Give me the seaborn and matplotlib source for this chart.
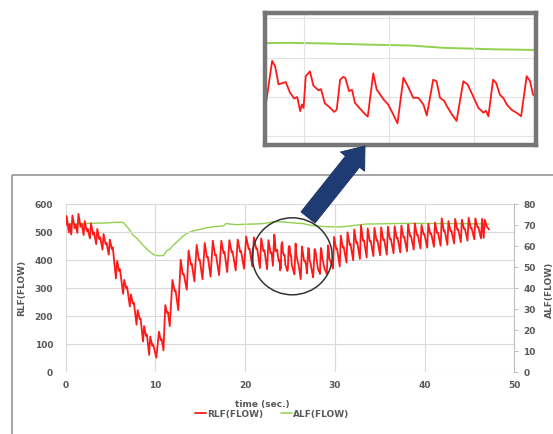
import matplotlib
matplotlib.use("Agg")
import matplotlib.pyplot as plt
from matplotlib.patches import Rectangle, Ellipse, FancyArrow
from matplotlib.lines import Line2D
import seaborn as sns

# RLF(FLOW) trace (time in s, flow)
rlf_time = [
    0.00, 0.10, 0.35, 0.45, 0.62, 0.75, 1.00, 1.10, 1.30, 1.42, 1.65, 1.78,
    2.00, 2.12, 2.35, 2.45, 2.70, 2.82, 3.05, 3.15, 3.40, 3.52, 3.75, 3.85,
    4.10, 4.22, 4.45, 4.55, 4.80, 4.92, 5.15, 5.25, 5.60, 5.74, 5.95, 6.05,
    6.40, 6.52, 6.75, 6.85, 7.15, 7.27, 7.50, 7.60, 7.90, 8.02, 8.25, 8.35,
    8.62, 8.74, 8.95, 9.05, 9.30, 9.42, 9.65, 9.75, 10.10, 10.40, 10.60, 10.70,
    10.90, 11.10, 11.30, 11.40, 11.60, 11.90, 12.15, 12.25, 12.55, 12.82, 13.05, 13.15,
    13.50, 13.70, 13.95, 14.05, 14.35, 14.60, 14.85, 14.95, 15.25, 15.50, 15.75, 15.85,
    16.15, 16.40, 16.65, 16.75, 17.10, 17.35, 17.60, 17.70, 18.00, 18.25, 18.50, 18.60,
    18.95, 19.18, 19.45, 19.55, 19.88, 20.12, 20.40, 20.50, 20.80, 20.98, 21.25, 21.35,
    21.65, 21.80, 22.05, 22.15, 22.45, 22.60, 22.85, 22.95, 23.10, 23.25, 23.32, 23.40,
    23.57, 23.67, 23.77, 23.84, 23.91, 23.95, 23.99, 24.04, 24.14, 24.22, 24.34, 24.40,
    24.49, 24.61, 24.71, 24.77, 24.85, 24.92, 24.97, 25.06, 25.13, 25.20, 25.32, 25.44,
    25.50, 25.63, 25.71, 25.80, 25.87, 25.98, 26.08, 26.20, 26.34, 26.45, 26.57, 26.69,
    26.81, 26.89, 27.04, 27.12, 27.20, 27.30, 27.36, 27.48, 27.59, 27.75, 27.85, 27.98,
    28.10, 28.22, 28.28, 28.34, 28.45, 28.52, 28.61, 28.70, 28.77, 28.89, 29.00, 29.11,
    29.24, 29.32, 29.39, 29.50, 29.62, 29.80, 29.92, 30.15, 30.25, 30.55, 30.67, 30.90,
    31.00, 31.30, 31.42, 31.65, 31.75, 32.05, 32.17, 32.40, 32.50, 32.80, 32.92, 33.15,
    33.25, 33.55, 33.67, 33.90, 34.00, 34.30, 34.42, 34.65, 34.75, 35.05, 35.17, 35.40,
    35.50, 35.80, 35.92, 36.15, 36.25, 36.55, 36.67, 36.90, 37.00, 37.30, 37.42, 37.65,
    37.75, 38.05, 38.17, 38.40, 38.50, 38.80, 38.92, 39.15, 39.25, 39.55, 39.67, 39.90,
    40.00, 40.30, 40.42, 40.65, 40.75, 41.05, 41.17, 41.40, 41.50, 41.80, 41.92, 42.15,
    42.25, 42.55, 42.67, 42.90, 43.00, 43.30, 43.42, 43.65, 43.75, 44.05, 44.17, 44.40,
    44.50, 44.80, 44.92, 45.15, 45.25, 45.55, 45.67, 45.90, 46.00, 46.30, 46.42, 46.60,
    46.72, 46.95, 47.20,
]
rlf_flow = [
    525, 558, 500, 530, 492, 560, 515, 528, 498, 566, 520, 530,
    490, 540, 505, 512, 478, 532, 492, 500, 458, 512, 475, 482,
    438, 494, 458, 462, 420, 474, 440, 446, 335, 398, 362, 368,
    280, 330, 300, 305, 235, 278, 245, 248, 170, 222, 190, 192,
    110, 165, 130, 135, 62, 128, 95, 100, 52, 145, 115, 118,
    78, 240, 212, 215, 165, 330, 290, 292, 222, 402, 350, 352,
    295, 435, 385, 388, 325, 455, 400, 402, 332, 462, 410, 412,
    342, 470, 418, 420, 347, 470, 425, 430, 358, 472, 428, 432,
    364, 474, 430, 433, 370, 485, 440, 442, 378, 482, 440, 442,
    372, 478, 432, 436, 368, 472, 425, 428, 380, 492, 478, 432,
    438, 411, 396, 400, 364, 381, 372, 453, 465, 429, 417, 420,
    384, 373, 362, 368, 444, 451, 449, 415, 418, 385, 370, 356,
    350, 460, 419, 405, 394, 381, 360, 333, 449, 426, 398, 398,
    381, 353, 444, 440, 398, 390, 377, 356, 339, 440, 432, 402,
    373, 360, 365, 351, 444, 436, 406, 396, 381, 367, 360, 351,
    453, 440, 406, 398, 388, 370, 484, 440, 442, 378, 488, 445,
    447, 392, 500, 455, 458, 400, 510, 462, 465, 405, 525, 470,
    472, 410, 514, 468, 470, 415, 516, 470, 472, 418, 518, 472,
    474, 420, 520, 475, 476, 425, 522, 478, 480, 428, 524, 482,
    483, 432, 528, 486, 487, 438, 532, 490, 491, 442, 526, 492,
    493, 445, 530, 494, 495, 448, 535, 498, 499, 452, 550, 505,
    506, 455, 540, 505, 506, 460, 548, 510, 511, 465, 545, 512,
    513, 470, 552, 515, 516, 475, 550, 518, 519, 478, 548, 480,
    545, 520, 510,
]

# ALF(FLOW) trace (right axis)
alf_time = [
    0.0, 1.5, 3.0, 4.5, 5.5, 6.2, 6.5, 7.0, 7.5, 8.0, 8.6, 9.2, 9.9, 10.4,
    10.9, 11.3, 11.6, 12.0, 12.4, 13.0, 13.5, 14.2, 15.0, 15.7, 16.4, 17.0,
    17.6, 17.9, 18.3, 19.0, 20.0, 21.0, 22.0, 23.1, 23.6, 24.5, 25.5, 26.5,
    27.3, 28.5, 29.4, 30.5, 31.5, 32.5, 33.5, 35.0, 37.6, 40.0, 42.0, 44.0,
    46.0, 47.2,
]
alf_flow = [
    70.5, 70.8, 71.0, 71.1, 71.4, 71.5, 71.0, 68.5, 65.4, 63.5, 60.6, 58.0, 55.8, 55.5,
    55.6, 58.0, 58.6, 60.5, 62.2, 64.5, 66.2, 67.3, 68.1, 68.8, 69.3, 69.5,
    69.8, 70.9, 70.6, 70.3, 70.5, 70.6, 70.8, 71.6, 71.7, 71.5, 71.1, 70.8,
    70.0, 69.5, 69.3, 69.2, 69.6, 70.1, 70.6, 70.7, 70.9, 70.9, 70.8, 70.8,
    70.7, 70.6,
]

time_ticks = [0, 10, 20, 30, 40, 50]
rlf_ticks = [0, 100, 200, 300, 400, 500, 600]
alf_ticks = [0, 10, 20, 30, 40, 50, 60, 70, 80]

RED = "#FF1A1A"
GREEN = "#92D050"
GRID = "#D9D9D9"
TXT = "#595959"
FS = 6.5

sns.set_theme(style="whitegrid")
plt.rcParams["font.family"] = ["DejaVu Sans"]

W, H = 553, 434
fig = plt.figure(figsize=(W / 100, H / 100), dpi=100)
fig.patch.set_facecolor("white")


def px(l, t, r, b):
    return [l / W, 1 - b / H, (r - l) / W, (b - t) / H]


# main chart
ax = fig.add_axes(px(65.7, 204.3, 514.2, 372.3))
ax2 = ax.twinx()
sns.lineplot(x=alf_time, y=alf_flow, ax=ax2, color=GREEN, linewidth=1.0,
             estimator=None, sort=False)
sns.lineplot(x=rlf_time, y=rlf_flow, ax=ax, color=RED, linewidth=1.3,
             estimator=None, sort=False)
ax.set_zorder(ax2.get_zorder() + 1)
ax.patch.set_visible(False)

ax.set_xlim(0, 50)
ax.set_ylim(0, 600)
ax2.set_ylim(0, 80)
ax.set_xticks(time_ticks)
ax.set_yticks(rlf_ticks)
ax2.set_yticks(alf_ticks)
ax.grid(True, color=GRID, linewidth=0.8)
ax2.grid(False)
for s in ax.spines.values():
    s.set_visible(False)
for k, s in ax2.spines.items():
    s.set_visible(k == "right")
ax2.spines["right"].set_color("#BFBFBF")
ax2.spines["right"].set_linewidth(0.8)
ax.tick_params(axis="x", length=0, pad=6.5, labelsize=FS, labelcolor=TXT)
ax.tick_params(axis="y", length=0, pad=9, labelsize=FS, labelcolor=TXT)
ax2.tick_params(axis="y", length=3, width=0.7, color="#BFBFBF", pad=3.5,
                labelsize=FS, labelcolor=TXT)
for lab in ax.get_xticklabels() + ax.get_yticklabels() + ax2.get_yticklabels():
    lab.set_fontweight("bold")
ax.set_xlabel("")
ax.set_ylabel("")
ax2.set_ylabel("")

fig.text(22 / W, 1 - 288 / H, "RLF(FLOW)", rotation=90, ha="center", va="center",
         fontsize=FS, fontweight="bold", color=TXT)
fig.text(549 / W, 1 - 290 / H, "ALF(FLOW)", rotation=90, ha="center", va="center",
         fontsize=FS, fontweight="bold", color=TXT)
fig.text(262 / W, 1 - 405 / H, "time (sec.)", ha="center", va="center",
         fontsize=FS, fontweight="bold", color=TXT)

handles = [Line2D([], [], color=RED, linewidth=1.3),
           Line2D([], [], color=GREEN, linewidth=1.1)]
leg = fig.legend(handles, ["RLF(FLOW)", "ALF(FLOW)"], loc="center",
                 bbox_to_anchor=(272 / W, 1 - 414 / H), ncol=2, frameon=False,
                 fontsize=FS, handlelength=1.2, handletextpad=0.1,
                 columnspacing=2.0)
for t in leg.get_texts():
    t.set_color(TXT)
    t.set_fontweight("bold")

# zoomed inset
axi = fig.add_axes(px(264.5, 12.8, 536, 144.7))
axi2 = axi.twinx()
sns.lineplot(x=alf_time, y=alf_flow, ax=axi2, color=GREEN, linewidth=1.4,
             estimator=None, sort=False)
sns.lineplot(x=rlf_time, y=rlf_flow, ax=axi, color=RED, linewidth=1.3,
             estimator=None, sort=False)
axi.set_zorder(axi2.get_zorder() + 1)
axi.patch.set_visible(False)
axi.set_xlim(23.07, 29.46)
axi.set_ylim(278.6, 614.2)
axi2.set_ylim(278.6 / 7.5, 614.2 / 7.5)
axi.set_xticks([24, 26, 28])
axi.set_yticks([300, 400, 500, 600])
axi.grid(True, color="#E3E3E3", linewidth=0.8)
axi2.grid(False)
axi.tick_params(length=0, labelbottom=False, labelleft=False)
axi2.tick_params(length=0, labelright=False)
axi.set_xlabel("")
axi.set_ylabel("")
axi2.set_ylabel("")
for s in axi2.spines.values():
    s.set_visible(False)
for s in axi.spines.values():
    s.set_visible(True)
    s.set_color("#767676")
    s.set_linewidth(3.2)

# overlay: frame, circle, arrow
ov = fig.add_axes([0, 0, 1, 1])
ov.set_xlim(0, W)
ov.set_ylim(H, 0)
ov.axis("off")
ov.patch.set_visible(False)
ov.set_zorder(10)
ov.add_patch(Rectangle((12, 175), 560, 280, fill=False, edgecolor="#8C8C8C",
                       linewidth=1.1))
ov.add_patch(Ellipse((292.2, 256.3), 80, 77, fill=False, edgecolor="#333333",
                     linewidth=1.1))
ov.add_patch(FancyArrow(308, 217.5, 57, -71.5, width=18, head_width=31,
                        head_length=20, length_includes_head=True,
                        facecolor="#1F3B73", edgecolor="#18305F", linewidth=0.6))

fig.savefig("out.png", dpi=100, facecolor="white")
